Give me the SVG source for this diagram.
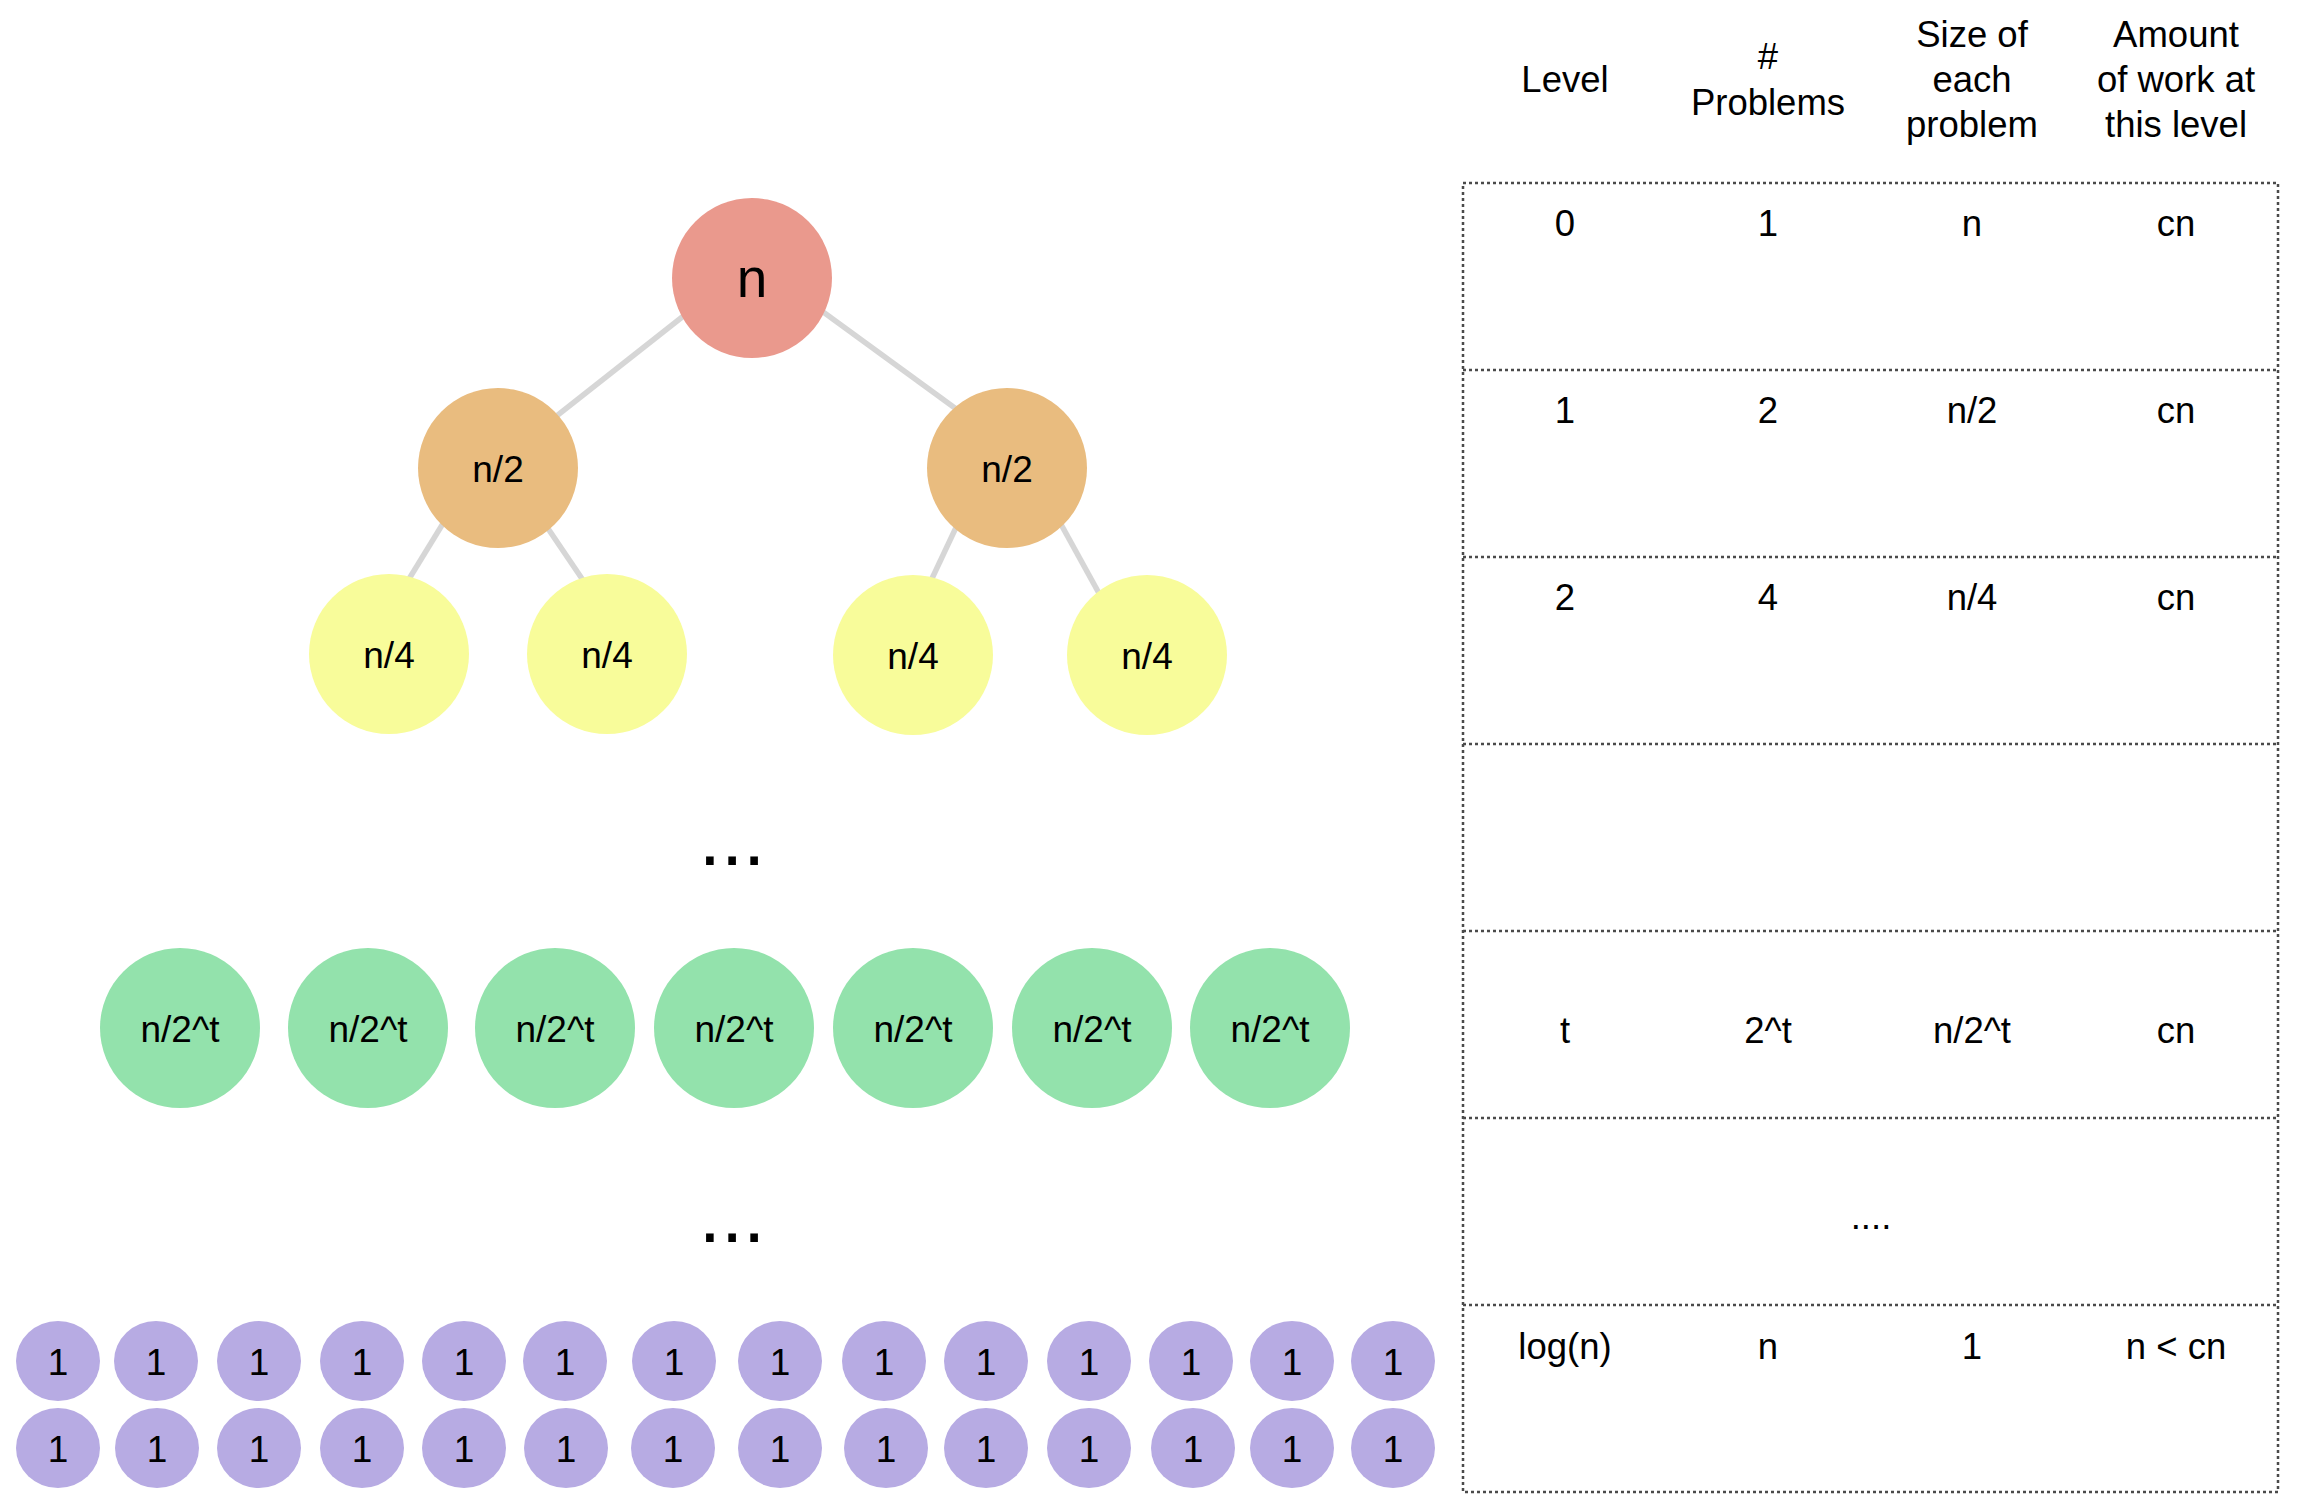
<svg xmlns="http://www.w3.org/2000/svg" width="2306" height="1502" viewBox="0 0 2306 1502">
<style>
text{font-family:"Liberation Sans",Arial,sans-serif;fill:#000;text-anchor:middle}
.t{font-size:37px}
.h{font-size:36.5px}
.edge{stroke:#d6d6d6;stroke-width:5.5;fill:none}
.grid{stroke:#4a4a4a;stroke-width:2.5;stroke-dasharray:3 3;fill:none}
.red{fill:#ea998d}.org{fill:#e9bc7f}.yel{fill:#f8fc9a}.grn{fill:#93e2ac}.pur{fill:#b7abe3}
</style>
<rect width="2306" height="1502" fill="#fff"/>
<g id="connectors">
<line class="edge" x1="752" y1="262" x2="498" y2="462"/>
<line class="edge" x1="752" y1="260" x2="1007" y2="446"/>
<line class="edge" x1="477" y1="468" x2="363" y2="654"/>
<line class="edge" x1="507" y1="468" x2="633" y2="654"/>
<line class="edge" x1="984" y1="468" x2="896" y2="655"/>
<line class="edge" x1="1030" y1="468" x2="1133" y2="655"/>
</g>
<g id="root"><circle class="red" cx="752" cy="278" r="80"/><text x="752" y="297" style="font-size:55px">n</text></g>
<g id="l1a"><circle class="org" cx="498" cy="468" r="80"/><text class="t" x="498" y="482">n/2</text></g>
<g id="l1b"><circle class="org" cx="1007" cy="468" r="80"/><text class="t" x="1007" y="482">n/2</text></g>
<g id="l2a"><circle class="yel" cx="389" cy="654" r="80"/><text class="t" x="389" y="668">n/4</text></g>
<g id="l2b"><circle class="yel" cx="607" cy="654" r="80"/><text class="t" x="607" y="668">n/4</text></g>
<g id="l2c"><circle class="yel" cx="913" cy="655" r="80"/><text class="t" x="913" y="669">n/4</text></g>
<g id="l2d"><circle class="yel" cx="1147" cy="655" r="80"/><text class="t" x="1147" y="669">n/4</text></g>
<g id="dots1"><text x="732" y="865" style="font-size:80px">...</text></g>
<g id="lt1"><circle class="grn" cx="180" cy="1028" r="80"/><text class="t" x="180" y="1042">n/2^t</text></g>
<g id="lt2"><circle class="grn" cx="368" cy="1028" r="80"/><text class="t" x="368" y="1042">n/2^t</text></g>
<g id="lt3"><circle class="grn" cx="555" cy="1028" r="80"/><text class="t" x="555" y="1042">n/2^t</text></g>
<g id="lt4"><circle class="grn" cx="734" cy="1028" r="80"/><text class="t" x="734" y="1042">n/2^t</text></g>
<g id="lt5"><circle class="grn" cx="913" cy="1028" r="80"/><text class="t" x="913" y="1042">n/2^t</text></g>
<g id="lt6"><circle class="grn" cx="1092" cy="1028" r="80"/><text class="t" x="1092" y="1042">n/2^t</text></g>
<g id="lt7"><circle class="grn" cx="1270" cy="1028" r="80"/><text class="t" x="1270" y="1042">n/2^t</text></g>
<g id="dots2"><text x="732" y="1242" style="font-size:80px">...</text></g>
<g id="leaves">
<g id="r1c1"><ellipse class="pur" cx="58" cy="1361" rx="42" ry="40"/><text class="t" x="58" y="1375">1</text></g>
<g id="r1c2"><ellipse class="pur" cx="156" cy="1361" rx="42" ry="40"/><text class="t" x="156" y="1375">1</text></g>
<g id="r1c3"><ellipse class="pur" cx="259" cy="1361" rx="42" ry="40"/><text class="t" x="259" y="1375">1</text></g>
<g id="r1c4"><ellipse class="pur" cx="362" cy="1361" rx="42" ry="40"/><text class="t" x="362" y="1375">1</text></g>
<g id="r1c5"><ellipse class="pur" cx="464" cy="1361" rx="42" ry="40"/><text class="t" x="464" y="1375">1</text></g>
<g id="r1c6"><ellipse class="pur" cx="565" cy="1361" rx="42" ry="40"/><text class="t" x="565" y="1375">1</text></g>
<g id="r1c7"><ellipse class="pur" cx="674" cy="1361" rx="42" ry="40"/><text class="t" x="674" y="1375">1</text></g>
<g id="r1c8"><ellipse class="pur" cx="780" cy="1361" rx="42" ry="40"/><text class="t" x="780" y="1375">1</text></g>
<g id="r1c9"><ellipse class="pur" cx="884" cy="1361" rx="42" ry="40"/><text class="t" x="884" y="1375">1</text></g>
<g id="r1c10"><ellipse class="pur" cx="986" cy="1361" rx="42" ry="40"/><text class="t" x="986" y="1375">1</text></g>
<g id="r1c11"><ellipse class="pur" cx="1089" cy="1361" rx="42" ry="40"/><text class="t" x="1089" y="1375">1</text></g>
<g id="r1c12"><ellipse class="pur" cx="1191" cy="1361" rx="42" ry="40"/><text class="t" x="1191" y="1375">1</text></g>
<g id="r1c13"><ellipse class="pur" cx="1292" cy="1361" rx="42" ry="40"/><text class="t" x="1292" y="1375">1</text></g>
<g id="r1c14"><ellipse class="pur" cx="1393" cy="1361" rx="42" ry="40"/><text class="t" x="1393" y="1375">1</text></g>
<g id="r2c1"><ellipse class="pur" cx="58" cy="1448" rx="42" ry="40"/><text class="t" x="58" y="1462">1</text></g>
<g id="r2c2"><ellipse class="pur" cx="157" cy="1448" rx="42" ry="40"/><text class="t" x="157" y="1462">1</text></g>
<g id="r2c3"><ellipse class="pur" cx="259" cy="1448" rx="42" ry="40"/><text class="t" x="259" y="1462">1</text></g>
<g id="r2c4"><ellipse class="pur" cx="362" cy="1448" rx="42" ry="40"/><text class="t" x="362" y="1462">1</text></g>
<g id="r2c5"><ellipse class="pur" cx="464" cy="1448" rx="42" ry="40"/><text class="t" x="464" y="1462">1</text></g>
<g id="r2c6"><ellipse class="pur" cx="566" cy="1448" rx="42" ry="40"/><text class="t" x="566" y="1462">1</text></g>
<g id="r2c7"><ellipse class="pur" cx="673" cy="1448" rx="42" ry="40"/><text class="t" x="673" y="1462">1</text></g>
<g id="r2c8"><ellipse class="pur" cx="780" cy="1448" rx="42" ry="40"/><text class="t" x="780" y="1462">1</text></g>
<g id="r2c9"><ellipse class="pur" cx="886" cy="1448" rx="42" ry="40"/><text class="t" x="886" y="1462">1</text></g>
<g id="r2c10"><ellipse class="pur" cx="986" cy="1448" rx="42" ry="40"/><text class="t" x="986" y="1462">1</text></g>
<g id="r2c11"><ellipse class="pur" cx="1089" cy="1448" rx="42" ry="40"/><text class="t" x="1089" y="1462">1</text></g>
<g id="r2c12"><ellipse class="pur" cx="1193" cy="1448" rx="42" ry="40"/><text class="t" x="1193" y="1462">1</text></g>
<g id="r2c13"><ellipse class="pur" cx="1292" cy="1448" rx="42" ry="40"/><text class="t" x="1292" y="1462">1</text></g>
<g id="r2c14"><ellipse class="pur" cx="1393" cy="1448" rx="42" ry="40"/><text class="t" x="1393" y="1462">1</text></g>
</g>
<g id="table">
<rect class="grid" x="1463" y="183" width="815" height="1309"/>
<line class="grid" x1="1463" y1="370" x2="2278" y2="370"/>
<line class="grid" x1="1463" y1="557" x2="2278" y2="557"/>
<line class="grid" x1="1463" y1="744" x2="2278" y2="744"/>
<line class="grid" x1="1463" y1="931" x2="2278" y2="931"/>
<line class="grid" x1="1463" y1="1118" x2="2278" y2="1118"/>
<line class="grid" x1="1463" y1="1305" x2="2278" y2="1305"/>
<g class="h">
<text x="1565" y="92">Level</text>
<text x="1768" y="69">#</text>
<text x="1768" y="115">Problems</text>
<text x="1972" y="47">Size of</text>
<text x="1972" y="92">each</text>
<text x="1972" y="137">problem</text>
<text x="2176" y="47">Amount</text>
<text x="2176" y="92">of work at</text>
<text x="2176" y="137">this level</text>
<text x="1565" y="236">0</text><text x="1768" y="236">1</text><text x="1972" y="236">n</text><text x="2176" y="236">cn</text>
<text x="1565" y="423">1</text><text x="1768" y="423">2</text><text x="1972" y="423">n/2</text><text x="2176" y="423">cn</text>
<text x="1565" y="610">2</text><text x="1768" y="610">4</text><text x="1972" y="610">n/4</text><text x="2176" y="610">cn</text>
<text x="1565" y="1043">t</text><text x="1768" y="1043">2^t</text><text x="1972" y="1043">n/2^t</text><text x="2176" y="1043">cn</text>
<text x="1871" y="1229">....</text>
<text x="1565" y="1359">log(n)</text><text x="1768" y="1359">n</text><text x="1972" y="1359">1</text><text x="2176" y="1359">n &lt; cn</text>
</g>
</g>
</svg>
